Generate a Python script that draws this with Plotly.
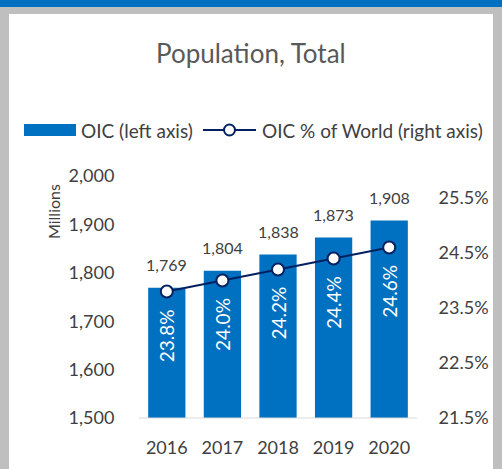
import plotly.graph_objects as go

years = ["2016", "2017", "2018", "2019", "2020"]
oic_pop = [1769, 1804, 1838, 1873, 1908]
oic_share = [23.8, 24.0, 24.2, 24.4, 24.6]
left_ticks = [1500, 1600, 1700, 1800, 1900, 2000]
right_ticks = [21.5, 22.5, 23.5, 24.5, 25.5]

W, H = 502, 469
L, R, T, B = 139, 417, 176, 418
FONT = "Lato"
BAR = "#0070C0"
NAVY = "#002060"
TXT = "#404040"

def px(x):
    return (x - L) / (R - L)

def py(y):
    return (B - y) / (B - T)

fig = go.Figure()
fig.add_trace(go.Bar(x=years, y=oic_pop, marker=dict(color=BAR, line=dict(width=0)),
                     width=0.67, name="OIC (left axis)", yaxis="y", hoverinfo="skip"))
fig.add_trace(go.Scatter(x=years, y=oic_share, mode="lines+markers", yaxis="y2",
                         line=dict(color=NAVY, width=2),
                         marker=dict(size=12, color="white", line=dict(color=NAVY, width=2)),
                         name="OIC % of World (right axis)", hoverinfo="skip"))

ann = []
for i, v in enumerate(oic_pop):
    ann.append(dict(x=i, y=v, xref="x", yref="y", text=f"{v:,}", showarrow=False,
                    xanchor="center", yanchor="middle",
                    yshift=23, font=dict(family=FONT, size=16, color=TXT)))
for i, s in enumerate(oic_share):
    ann.append(dict(x=i, y=s, xref="x", yref="y2", text=f"{s:.1f}%", showarrow=False,
                    xanchor="center", yanchor="middle",
                    textangle=-90, yshift=-44, font=dict(family=FONT, size=19, color="white")))

def pann(x, y, text, size, color=TXT, xanchor="center", angle=0):
    return dict(x=px(x), y=py(y), xref="paper", yref="paper", text=text, showarrow=False,
                xanchor=xanchor, yanchor="middle", textangle=angle,
                font=dict(family=FONT, size=size, color=color))

ann.append(pann(251, 53, "Population, Total", 26, "#595959"))
ann.append(pann(53, 212, "Millions", 16, angle=-90))
ann.append(pann(79, 130, "OIC (left axis)", 19, xanchor="left"))
ann.append(pann(260, 130, "OIC % of World (right axis)", 19, xanchor="left"))

shapes = [
    dict(type="rect", xref="paper", yref="paper", x0=px(0), x1=px(W), y0=py(H), y1=py(0),
         fillcolor="#BFBFBF", line=dict(width=0), layer="below"),
    dict(type="rect", xref="paper", yref="paper", x0=px(0), x1=px(W), y0=py(7), y1=py(0),
         fillcolor="#0070C0", line=dict(width=0), layer="below"),
    dict(type="rect", xref="paper", yref="paper", x0=px(9), x1=px(493), y0=py(H), y1=py(14),
         fillcolor="white", line=dict(width=0), layer="below"),
    # legend swatches
    dict(type="rect", xref="paper", yref="paper", x0=px(24), x1=px(76), y0=py(136), y1=py(124),
         fillcolor=BAR, line=dict(width=0)),
    dict(type="line", xref="paper", yref="paper", x0=px(203), x1=px(256), y0=py(130), y1=py(130),
         line=dict(color=NAVY, width=2)),
    dict(type="circle", xref="paper", yref="paper", x0=px(224), x1=px(235), y0=py(135.5), y1=py(124.5),
         fillcolor="white", line=dict(color=NAVY, width=2)),
    # axis baseline
    dict(type="line", xref="paper", yref="paper", x0=0, x1=1, y0=0, y1=0,
         line=dict(color="#D9D9D9", width=1)),
]

fig.update_layout(
    width=W, height=H,
    margin=dict(l=L, r=W - R, t=T, b=H - B, pad=0),
    paper_bgcolor="#BFBFBF", plot_bgcolor="rgba(0,0,0,0)",
    showlegend=False, bargap=0.33, hovermode=False,
    font=dict(family=FONT, color=TXT),
    xaxis=dict(type="category", range=[-0.5, 4.5], autorange=False,
               showgrid=False, showline=False, zeroline=False,
               ticks="outside", ticklen=13, tickcolor="rgba(0,0,0,0)",
               tickfont=dict(family=FONT, size=18, color=TXT)),
    yaxis=dict(range=[1500, 2000], tickvals=left_ticks, ticktext=[f"{v:,}" for v in left_ticks],
               showgrid=False, zeroline=False, showline=False,
               ticks="outside", ticklen=20, tickcolor="rgba(0,0,0,0)",
               tickfont=dict(family=FONT, size=18, color=TXT)),
    yaxis2=dict(range=[21.5, 25.9], overlaying="y", side="right", tickvals=right_ticks,
                ticktext=[f"{v:.1f}%" for v in right_ticks],
                showgrid=False, zeroline=False, showline=False,
                ticks="outside", ticklen=17, tickcolor="rgba(0,0,0,0)",
                tickfont=dict(family=FONT, size=18, color=TXT)),
    annotations=ann, shapes=shapes,
)

fig.write_html("out.html", config={"displayModeBar": False, "staticPlot": True},
               post_script="document.body.style.margin='0';document.body.style.overflow='hidden';")
